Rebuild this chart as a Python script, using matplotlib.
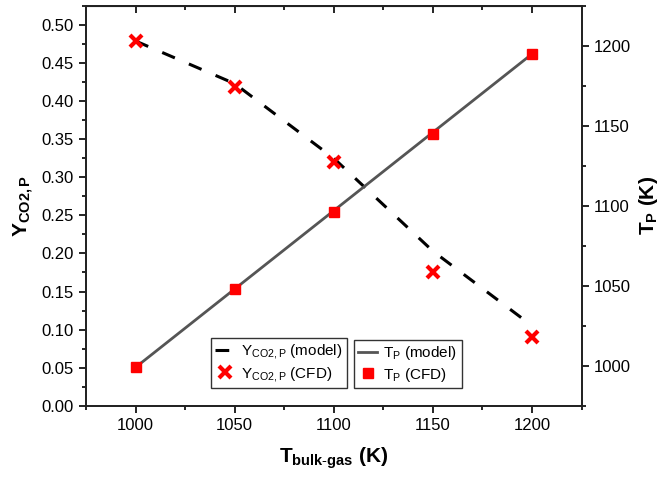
import matplotlib
matplotlib.use("Agg")
import matplotlib.pyplot as plt
from matplotlib.ticker import MultipleLocator

plt.rcParams['font.family'] = 'Liberation Sans'
plt.rcParams['mathtext.fontset'] = 'custom'
plt.rcParams['mathtext.rm'] = 'Liberation Sans'
plt.rcParams['mathtext.it'] = 'Liberation Sans'
plt.rcParams['mathtext.bf'] = 'Liberation Sans:bold'

# --- data ---
t_bulk = [1000, 1050, 1100, 1150, 1200]
y_model = [0.479, 0.423, 0.325, 0.203, 0.105]
y_cfd = [0.479, 0.419, 0.320, 0.175, 0.090]
tp_model = [999, 1048, 1097, 1146, 1195]
tp_cfd = [999, 1048, 1096, 1145, 1195]

fig = plt.figure(figsize=(6.59, 4.79), dpi=100)
ax = fig.add_axes([0.1305, 0.153, 0.752, 0.8345])
ax2 = ax.twinx()

l1, = ax.plot(t_bulk, y_model, color='black', lw=2.2, dashes=(4.5, 5),
              label=r'$\mathregular{Y_{CO2,P}}$ (model)')
l2, = ax.plot(t_bulk, y_cfd, ls='none', marker='x', ms=9, mew=3, color='red',
              label=r'$\mathregular{Y_{CO2,P}}$ (CFD)')
l3, = ax2.plot(t_bulk, tp_model, color='#555555', lw=2,
               label=r'$\mathregular{T_P}$ (model)')
l4, = ax2.plot(t_bulk, tp_cfd, ls='none', marker='s', ms=7, color='red',
               label=r'$\mathregular{T_P}$ (CFD)')

ax.set_xlim(975, 1225)
ax.set_ylim(0, 0.525)
ax2.set_ylim(975, 1225)

ax.xaxis.set_major_locator(MultipleLocator(50))
ax.xaxis.set_minor_locator(MultipleLocator(25))
ax.yaxis.set_major_locator(MultipleLocator(0.05))
ax.yaxis.set_minor_locator(MultipleLocator(0.025))
ax.yaxis.set_major_formatter(plt.FormatStrFormatter('%.2f'))
ax2.yaxis.set_major_locator(MultipleLocator(50))
ax2.yaxis.set_minor_locator(MultipleLocator(25))

for a in (ax, ax2):
    a.tick_params(which='major', direction='out', length=5, width=1.2, labelsize=12, pad=4)
    a.tick_params(which='minor', direction='out', length=3, width=1.2)
    for s in a.spines.values():
        s.set_linewidth(1.3)
        s.set_color('#222222')

# top axis: ticks pointing inward, no labels
top = ax.secondary_xaxis('top')
top.xaxis.set_major_locator(MultipleLocator(50))
top.xaxis.set_minor_locator(MultipleLocator(25))
top.tick_params(which='major', direction='in', length=5, width=1.2)
top.tick_params(which='minor', direction='in', length=3, width=1.2)
top.set_xticklabels([])

ax.set_xlabel(r'$\mathbf{T_{bulk\text{-}gas}}$ (K)', fontsize=15, fontweight='bold', labelpad=9)
ax.set_ylabel(r'$\mathbf{Y_{CO2,P}}$', fontsize=15, fontweight='bold', labelpad=4)
ax2.set_ylabel(r'$\mathbf{T_P}$ (K)', fontsize=15, fontweight='bold', labelpad=4)

leg_kw = dict(fontsize=11, fancybox=False, edgecolor='#333333', framealpha=1,
              handlelength=1.25, borderpad=0.3, labelspacing=0.2, handletextpad=0.4,
              borderaxespad=0, loc='lower left')
leg1 = ax2.legend(handles=[l1, l2], bbox_to_anchor=(0.252, 0.044), **leg_kw)
leg1.get_frame().set_linewidth(1.0)
ax2.add_artist(leg1)
leg2 = ax2.legend(handles=[l3, l4], bbox_to_anchor=(0.540, 0.044), **leg_kw)
leg2.get_frame().set_linewidth(1.0)

fig.savefig('out.png', dpi=100)
